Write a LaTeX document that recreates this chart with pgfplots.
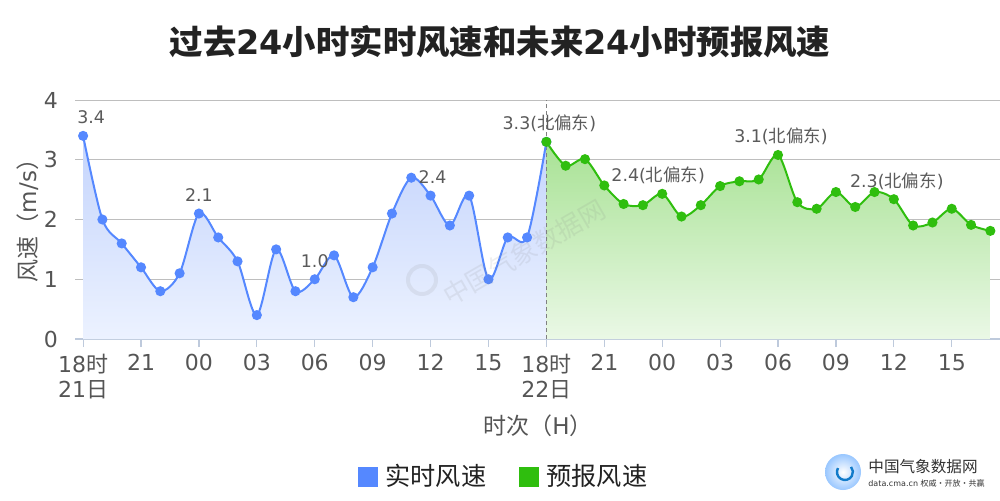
\documentclass[border=0pt]{standalone}
\usepackage{pgfplots}
\pgfplotsset{compat=1.18}
\usepackage{fontspec}
\setmainfont{DejaVu Sans}
\newfontfamily\cjk{Noto Sans CJK SC}
\definecolor{bluec}{RGB}{85,136,255}
\definecolor{greenc}{RGB}{47,190,14}
\definecolor{bluetop}{RGB}{196,212,252}
\definecolor{bluebot}{RGB}{236,242,255}
\definecolor{greentop}{RGB}{168,226,148}
\definecolor{greenbot}{RGB}{234,248,230}
\definecolor{gridc}{RGB}{190,190,190}
\definecolor{axisc}{RGB}{190,202,220}
\definecolor{tickc}{RGB}{85,85,85}
\definecolor{labc}{RGB}{90,90,90}
\definecolor{titlec}{RGB}{34,34,34}
\pgfplotstableread{
x y
0 3.4
1 2.0
2 1.6
3 1.2
4 0.8
5 1.1
6 2.1
7 1.7
8 1.3
9 0.4
10 1.5
11 0.8
12 1.0
13 1.4
14 0.7
15 1.2
16 2.1
17 2.7
18 2.4
19 1.9
20 2.4
21 1.0
22 1.7
23 1.7
24 3.3
}\pasttable
\pgfplotstableread{
x y
24 3.30
25 2.90
26 3.01
27 2.57
28 2.26
29 2.24
30 2.43
31 2.05
32 2.24
33 2.56
34 2.64
35 2.67
36 3.08
37 2.29
38 2.18
39 2.46
40 2.21
41 2.46
42 2.34
43 1.90
44 1.95
45 2.18
46 1.91
47 1.81
}\fctable
\begin{document}
\begin{tikzpicture}
\path[use as bounding box] (0,0) rectangle (500pt,250pt);
\begin{axis}[
  at={(37.5pt,80.5pt)}, anchor=south west,
  scale only axis, width=462.5pt, height=119.5pt,
  xmin=-0.42, xmax=47.5, ymin=0, ymax=4,
  axis x line=bottom, axis y line=left, axis line style={-},
  x axis line style={draw=axisc, line width=0.6pt},
  y axis line style={draw=none},
  xtick={0,3,...,45},
  xticklabels={{18{\cjk 时}\\21{\cjk 日}},21,00,03,06,09,12,15,{18{\cjk 时}\\22{\cjk 日}},21,00,03,06,09,12,15},
  xtick align=outside, major tick length=4pt,
  xtick style={draw=axisc, line width=0.6pt},
  ytick={0,1,2,3,4}, ytick style={draw=none},
  ymajorgrids, grid style={gridc, line width=0.5pt},
  tick label style={font=\fontsize{11}{12.5}\selectfont, text=tickc},
  xticklabel style={align=left},
  yticklabel style={xshift=-3pt},
  /pgf/number format/assume math mode=true,
  clip=false,
]
\addplot[draw=none, smooth, tension=0.5, top color=bluetop, bottom color=bluebot] table[x=x,y=y]{\pasttable} \closedcycle;
\addplot[draw=none, smooth, tension=0.5, top color=greentop, bottom color=greenbot] table[x=x,y=y]{\fctable} \closedcycle;
\draw[gray, line width=0.5pt, dash pattern=on 2pt off 1.5pt] (axis cs:24,0) -- (axis cs:24,4);
\addplot[bluec, line width=1pt, smooth, tension=0.5, mark=*, mark size=2pt, mark options={fill=bluec, draw=bluec}] table[x=x,y=y]{\pasttable};
\addplot[greenc, line width=1pt, smooth, tension=0.5, mark=*, mark size=2pt, mark options={fill=greenc, draw=greenc}] table[x=x,y=y]{\fctable};
\begin{scope}[every node/.style={font=\fontsize{8.7}{10}\selectfont, text=labc, anchor=base}]
\node[xshift=4pt, yshift=6pt] at (axis cs:0,3.4) {3.4};
\node[yshift=6pt] at (axis cs:6,2.1) {2.1};
\node[yshift=6pt] at (axis cs:12,1.0) {1.0};
\node[xshift=1pt, yshift=6pt] at (axis cs:18,2.4) {2.4};
\node[xshift=1.5pt, yshift=6pt] at (axis cs:24,3.3) {3.3({\cjk 北偏东})};
\node[xshift=-2pt, yshift=6pt] at (axis cs:30,2.43) {2.4({\cjk 北偏东})};
\node[xshift=1.5pt, yshift=6pt] at (axis cs:36,3.08) {3.1({\cjk 北偏东})};
\node[xshift=1.5pt, yshift=6pt] at (axis cs:42,2.34) {2.3({\cjk 北偏东})};
\end{scope}
\end{axis}
% watermark
\node[rotate=30, text=gray, opacity=0.13, font=\cjk\fontsize{13}{14}\selectfont] at (262pt,124pt) {中国气象数据网};
\draw[gray, opacity=0.12, line width=2pt] (211pt,110pt) circle (7pt);
% title
\node[font=\fontsize{16.7}{19}\selectfont\bfseries, text=titlec] at (250pt,229pt) {{\cjk\bfseries 过去}24{\cjk\bfseries 小时实时风速和未来}24{\cjk\bfseries 小时预报风速}};
% axis titles
\node[rotate=90, font=\fontsize{11.5}{12.5}\selectfont, text=tickc] at (14pt,142.5pt) {{\cjk 风速（}m/s{\cjk ）}};
\node[font=\fontsize{11.5}{12.5}\selectfont, text=tickc] at (269pt,37pt) {{\cjk 时次（}H{\cjk ）}};
% legend
\fill[bluec] (179pt,6.5pt) rectangle (189pt,16.5pt);
\node[anchor=west, font=\cjk\fontsize{12.6}{13}\selectfont, text=titlec, inner sep=0pt] at (192.5pt,12pt) {实时风速};
\fill[greenc] (259.5pt,6.5pt) rectangle (269.5pt,16.5pt);
\node[anchor=west, font=\cjk\fontsize{12.6}{13}\selectfont, text=titlec, inner sep=0pt] at (273pt,12pt) {预报风速};
% logo
\shade[inner color=white, outer color=cyan!45!blue!40] (421.5pt,14pt) circle (9pt);
\draw[cyan!60!blue, line width=1.2pt] (419pt,16pt) arc (150:400:4pt);
\node[anchor=west, font=\cjk\fontsize{7.8}{8}\selectfont, text=gray!40!black, inner sep=0pt] at (434pt,16.5pt) {中国气象数据网};
\node[anchor=west, font=\fontsize{4}{5}\selectfont, text=gray!40!black, inner sep=0pt] at (434pt,8.5pt) {data.cma.cn {\cjk 权威·开放·共赢}};
\end{tikzpicture}
\end{document}
